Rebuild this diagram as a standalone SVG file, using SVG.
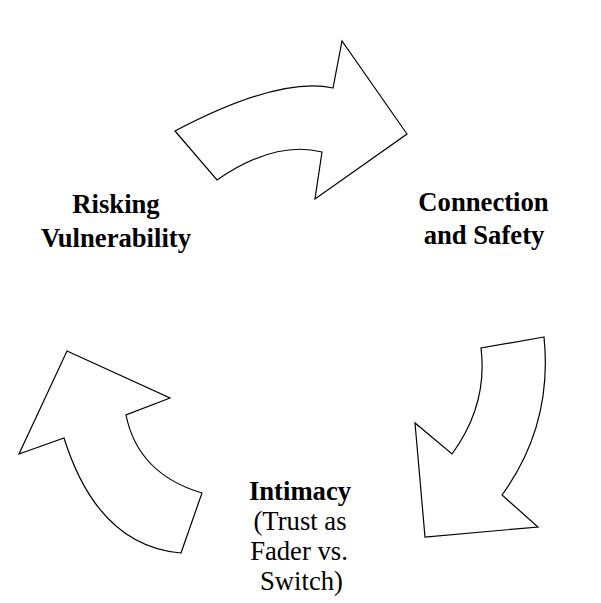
<svg xmlns="http://www.w3.org/2000/svg" width="601" height="603" viewBox="0 0 601 603">
<style>
.arrow{fill:#fff;stroke:#000;stroke-width:1.2;stroke-linejoin:miter}
text{font-size:26.67px;fill:#000;text-anchor:middle}
.b{font-weight:bold}
</style>
<rect width="601" height="603" fill="#fff"/>
<g id="connectors">
<path id="arrow-top" class="arrow" d="M175,131 L217,180 Q275,140 322,152 L315,199 L407,134 L342,41 L333,88 Q280,76 175,131 Z"/>
<path id="arrow-right" class="arrow" d="M544,337 L481,348 Q488,405 452,454 L415,423 L425,537 L538,527 L502,495 Q553,425 544,337 Z"/>
<path id="arrow-left" class="arrow" d="M181,553 L202,493 Q138,474 126,415 L170,398 L67,351 L19,454 L64,438 Q98,546 181,553 Z"/>
</g>
<g id="node-risking" font-family="Liberation Serif, DejaVu Serif, serif">
<text class="b" x="116" y="213">Risking</text>
<text class="b" x="116" y="246.5">Vulnerability</text>
</g>
<g id="node-connection" font-family="Liberation Serif, DejaVu Serif, serif">
<text class="b" x="483.5" y="211">Connection</text>
<text class="b" x="484" y="244">and Safety</text>
</g>
<g id="node-intimacy" font-family="Liberation Serif, DejaVu Serif, serif">
<text class="b" x="300" y="500">Intimacy</text>
<text x="300" y="530">(Trust as</text>
<text x="299" y="560">Fader vs.</text>
<text x="301.5" y="590">Switch)</text>
</g>
</svg>
